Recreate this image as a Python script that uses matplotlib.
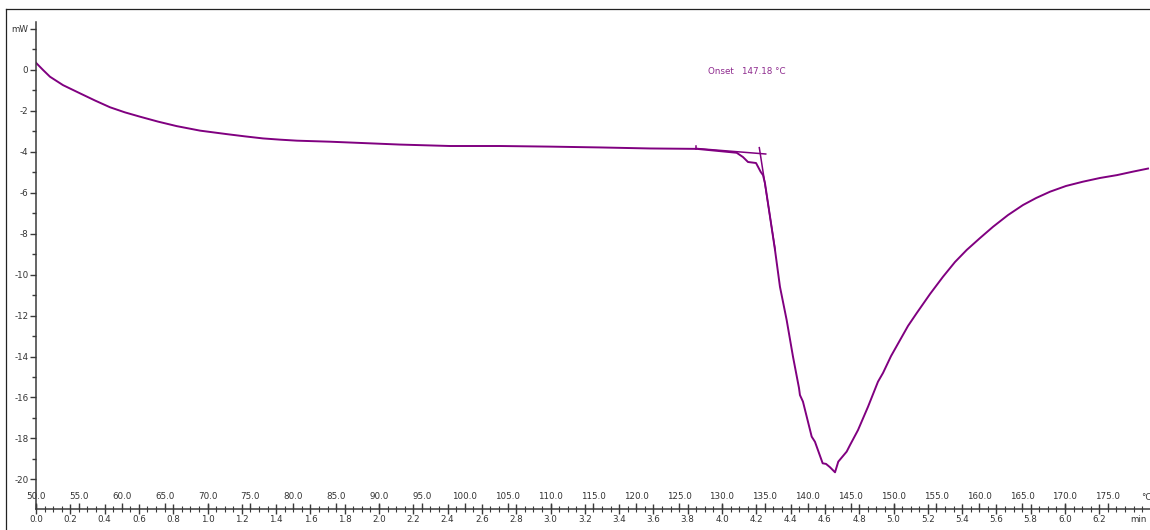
import numpy as np
import matplotlib
matplotlib.use("Agg")
import matplotlib.pyplot as plt
from matplotlib.lines import Line2D
from matplotlib.ticker import FixedLocator, FuncFormatter, MultipleLocator

# DSC heat-flow trace: sample temperature (°C) and heat flow (mW)
temperature = [50.0, 50.82, 51.63, 53.15, 55.13, 56.88, 58.63, 60.38, 62.13, 64.23,
               66.41, 69.13, 72.24, 74.37, 76.47, 78.45, 80.44, 84.29, 92.45, 98.28,
               104.11, 109.94, 115.77, 121.6, 127.08, 131.71, 132.45, 133.03, 133.97,
               134.51, 134.78, 135.01, 135.60, 136.18, 136.76, 137.54, 138.28, 138.98,
               139.09, 139.44, 140.46, 140.84, 141.74, 142.13, 142.59, 143.18, 143.56,
               144.54, 144.93, 145.86, 147.03, 148.19, 148.78, 149.71, 150.76, 151.69,
               152.71, 154.26, 155.77, 157.17, 158.54, 160.09, 161.61, 163.35, 165.10,
               166.62, 168.25, 170.12, 172.10, 174.08, 176.06, 177.93, 179.68]
heat_flow = [0.33, -0.02, -0.35, -0.76, -1.16, -1.51, -1.84, -2.09, -2.30, -2.54,
             -2.76, -2.98, -3.15, -3.26, -3.36, -3.42, -3.47, -3.52, -3.66, -3.73,
             -3.73, -3.76, -3.80, -3.85, -3.87, -4.06, -4.27, -4.51, -4.56,
             -4.99, -5.15, -5.54, -7.18, -8.80, -10.60, -12.22, -14.01, -15.54,
             -15.88, -16.20, -17.91, -18.16, -19.21, -19.24, -19.40, -19.65, -19.13,
             -18.64, -18.32, -17.59, -16.45, -15.23, -14.80, -13.98, -13.20, -12.51,
             -11.88, -10.95, -10.11, -9.39, -8.80, -8.22, -7.67, -7.10, -6.61,
             -6.27, -5.96, -5.68, -5.47, -5.29, -5.15, -4.98, -4.83]

# Onset construction: extrapolated baseline and inflection tangent
baseline_T = [127.0, 135.1]
baseline_mW = [-3.85, -4.12]
tangent_T = [134.35, 136.2]
tangent_mW = [-3.81, -8.80]
marker_T = [127.0, 127.0]
marker_mW = [-3.72, -3.88]
onset_label = "Onset   147.18 °C"

# Axis scales: heating at 20 °C/min starting from 50 °C
start_T = 50.0
rate = 20.0
temp_ticks = list(np.arange(50.0, 176.0, 5.0))
time_ticks = list(np.arange(0.0, 6.21, 0.2))
y_ticks = list(range(-20, 3, 2))

W, H = 1150, 530
fig = plt.figure(figsize=(W / 100, H / 100), dpi=100)
fig.patch.set_facecolor("white")

x0, x1 = 36, 1150
y_top, y_bot = 22, 509
ax = fig.add_axes([x0 / W, (H - y_bot) / H, (x1 - x0) / W, (y_bot - y_top) / H])

purple = "#800080"
axis_col = "#3a3a3a"
txt_col = "#333333"
fs = 6.3

ax.plot(temperature, heat_flow, color=purple, lw=1.4, solid_joinstyle="round")
ax.plot(baseline_T, baseline_mW, color=purple, lw=1.1)
ax.plot(tangent_T, tangent_mW, color=purple, lw=1.1)
ax.plot(marker_T, marker_mW, color=purple, lw=1.1)

ax.set_xlim(start_T, start_T + rate * (x1 - x0) / 171.5)
ax.set_ylim(-21.44, 2.32)

for s in ("top", "right"):
    ax.spines[s].set_visible(False)
for s in ("left", "bottom"):
    ax.spines[s].set_color(axis_col)
    ax.spines[s].set_linewidth(1.1)

# y axis: heat flow, unit shown in place of the top label
ax.yaxis.set_major_locator(FixedLocator(y_ticks))
ax.yaxis.set_minor_locator(FixedLocator([v + 1 for v in y_ticks[:-1]]))
ax.yaxis.set_major_formatter(FuncFormatter(lambda v, p: "mW" if v == 2 else f"{int(v)}"))
ax.tick_params(axis="y", which="major", direction="out", length=4, width=1, color=axis_col,
               labelsize=fs, labelcolor=txt_col, pad=1.5)
ax.tick_params(axis="y", which="minor", direction="out", length=3, width=1, color=axis_col)

# bottom labels: time in minutes
ax.xaxis.set_major_locator(FixedLocator([start_T + rate * t for t in time_ticks]))
ax.xaxis.set_minor_locator(MultipleLocator(1.0))
ax.xaxis.set_major_formatter(FuncFormatter(lambda T, p: f"{(T - start_T) / rate:.1f}"))
ax.tick_params(axis="x", which="major", direction="inout", length=7, width=1, color=axis_col,
               labelsize=fs, labelcolor=txt_col, pad=1)
ax.tick_params(axis="x", which="minor", direction="inout", length=4, width=0.8, color=axis_col)

# labels above the axis line: temperature in °C
sec = ax.secondary_xaxis(0.0)
sec.set_alignment("top")
sec.spines["top"].set_visible(False)
sec.spines["bottom"].set_visible(False)
sec.xaxis.set_major_locator(FixedLocator(temp_ticks))
sec.xaxis.set_major_formatter(FuncFormatter(lambda T, p: f"{T:.1f}"))
sec.tick_params(axis="x", which="major", direction="out", length=4, width=1, color=axis_col,
                labelsize=fs, labelcolor=txt_col, pad=2)
sec.tick_params(axis="x", which="minor", length=0)

# unit labels at the right end of the axis
fig.text(1141 / W, (H - 498) / H, "°C", fontsize=fs, color=txt_col, ha="left", va="center")
fig.text(1130 / W, (H - 519) / H, "min", fontsize=fs, color=txt_col, ha="left", va="center")

fig.text(708 / W, (H - 72) / H, onset_label, fontsize=fs, color="#8e2a8e",
         ha="left", va="center")

# outer frame
fig.add_artist(Line2D([6 / W, 6 / W], [0, (H - 9) / H], transform=fig.transFigure,
                      color="#222222", lw=0.9))
fig.add_artist(Line2D([6 / W, 1], [(H - 9) / H, (H - 9) / H], transform=fig.transFigure,
                      color="#222222", lw=0.9))

fig.savefig("out.png", dpi=100, facecolor="white")
